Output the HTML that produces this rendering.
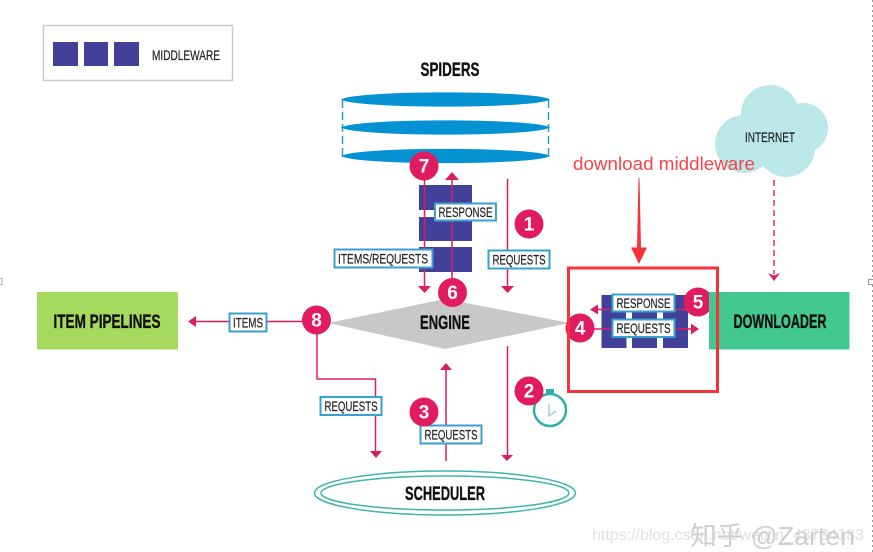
<!DOCTYPE html>
<html><head><meta charset="utf-8"><style>
html,body{margin:0;padding:0;background:#fff}
svg{display:block;filter:blur(.3px)}
text{font-family:"Liberation Sans","Noto Sans CJK SC",sans-serif}
.t{font-weight:bold;fill:#111;stroke:#111;stroke-width:.35;text-anchor:middle}
.l{fill:#222;stroke:#222;stroke-width:.2;font-size:14px;text-anchor:middle}
.b{fill:#fff;stroke:#36a3cf;stroke-width:2}
.p{stroke:#d81f66;stroke-width:1.5;fill:none}
.h{fill:#d81f66}
.c{fill:#e01b60}
.n{fill:#fff;font-weight:bold;font-size:19px;text-anchor:middle}
.m{fill:#43409a}
</style></head><body>
<svg width="873" height="552" viewBox="0 0 873 552" xmlns="http://www.w3.org/2000/svg">
<rect x="43.500" y="25.500" width="189" height="55" fill="#fff" stroke="#c9c9c9" stroke-width="1.500"/>
<rect class="m" x="53" y="42" width="25" height="24"/><rect class="m" x="84" y="42" width="24" height="24"/><rect class="m" x="114" y="42" width="25" height="24"/>
<text class="l" x="186" y="60" textLength="68" lengthAdjust="spacingAndGlyphs">MIDDLEWARE</text>

<text class="t" x="450" y="76" font-size="19" textLength="59" lengthAdjust="spacingAndGlyphs">SPIDERS</text>
<path d="M342.500 100V156M548.500 100V156" stroke="#2a9bd0" stroke-width="1.500" stroke-dasharray="8 4" fill="none"/>
<path d="M341 99.500C356 90 535 90 550 99.500C535 109 356 109 341 99.500Z" fill="#0592d2"/>
<path d="M341 127.500C356 118 535 118 550 127.500C535 137 356 137 341 127.500Z" fill="#0592d2"/>
<path d="M341 156C356 146.500 535 146.500 550 156C535 165.500 356 165.500 341 156Z" fill="#0592d2"/>

<rect class="m" x="419" y="185" width="53" height="25"/><rect class="m" x="419" y="217" width="53" height="24"/><rect class="m" x="419" y="247" width="53" height="25"/>
<polygon points="328,323 445,299 570,323 445,349" fill="#c8c8c8"/>
<text class="t" x="445" y="329" font-size="19" textLength="50" lengthAdjust="spacingAndGlyphs">ENGINE</text>

<path class="p" d="M424.500 166V288M452 292V178M507.500 179V288M507.500 346V455M446 461V370"/>
<path class="h" d="M418 286h13l-6.500 7zM445 180l7-8 7 8zM501 286h13l-6.500 7zM501 455h12l-6 6zM440 370l6-7 6 7z"/>

<rect class="b" x="435" y="203.500" width="61" height="17"/>
<text class="l" x="465.500" y="217" textLength="54" lengthAdjust="spacingAndGlyphs">RESPONSE</text>
<rect class="b" x="334.500" y="249.500" width="98" height="18"/>
<text class="l" x="383" y="263.500" textLength="90" lengthAdjust="spacingAndGlyphs">ITEMS/REQUESTS</text>
<rect class="b" x="488.500" y="250.500" width="61" height="18"/>
<text class="l" x="519" y="264.500" textLength="53" lengthAdjust="spacingAndGlyphs">REQUESTS</text>

<circle class="c" cx="424" cy="166" r="14.500"/><text class="n" x="424" y="172.500">7</text>
<circle class="c" cx="452.500" cy="292.500" r="14.500"/><text class="n" x="452.500" y="299">6</text>
<circle class="c" cx="529" cy="224" r="14.500"/><text class="n" x="529" y="230.500">1</text>

<rect x="37" y="292" width="141" height="57.500" fill="#a5da5f"/>
<text class="t" x="107" y="328" font-size="19" textLength="107" lengthAdjust="spacingAndGlyphs">ITEM PIPELINES</text>
<path class="p" d="M195 321.500H317V379H375.500V452"/>
<path class="h" d="M196 316l-8 5.500 8 5.500zM370 451h12l-6 7z"/>
<rect class="b" x="229.500" y="313.500" width="37" height="18"/>
<text class="l" x="248" y="327.500" textLength="30" lengthAdjust="spacingAndGlyphs">ITEMS</text>
<circle class="c" cx="316.500" cy="320" r="14.500"/><text class="n" x="316.500" y="326.500">8</text>
<rect class="b" x="320.500" y="397" width="61" height="18"/>
<text class="l" x="351" y="411" textLength="53" lengthAdjust="spacingAndGlyphs">REQUESTS</text>

<rect class="b" x="420.500" y="425.500" width="61" height="18"/>
<text class="l" x="451" y="439.500" textLength="53" lengthAdjust="spacingAndGlyphs">REQUESTS</text>
<circle class="c" cx="424" cy="412" r="14.500"/><text class="n" x="424" y="418.500">3</text>

<circle cx="550" cy="410" r="16" fill="#fff" stroke="#2fb0a8" stroke-width="2.500"/>
<rect x="546" y="389" width="8" height="5" fill="#2fb0a8"/>
<path d="M549 404V416L556 411" stroke="#7fcfca" stroke-width="1.200" fill="none"/>
<circle class="c" cx="529" cy="391" r="14.500"/><text class="n" x="529" y="397.500">2</text>

<ellipse cx="445" cy="493" rx="130.500" ry="22" fill="#fff" stroke="#3eb5ad" stroke-width="1.500"/>
<ellipse cx="445" cy="493" rx="124" ry="17" fill="#fff" stroke="#3eb5ad" stroke-width="1.500"/>
<text class="t" x="445" y="500" font-size="19" textLength="80" lengthAdjust="spacingAndGlyphs">SCHEDULER</text>

<rect class="m" x="601.500" y="295" width="86.500" height="43"/>
<rect class="m" x="601.500" y="338" width="25" height="10"/><rect class="m" x="632" y="338" width="25" height="10"/><rect class="m" x="663" y="338" width="25" height="10"/>
<rect x="626" y="312" width="6" height="7" fill="#fff"/><rect x="657" y="312" width="6" height="7" fill="#fff"/>
<path class="p" d="M597 309.500H698M580 329H692"/>
<path class="h" d="M598 304.500l-8 5 8 5zM691 323.500l8 5.500-8 5.500z"/>
<rect class="b" x="612.500" y="294.500" width="62" height="17"/>
<text class="l" x="643.500" y="308" textLength="54" lengthAdjust="spacingAndGlyphs">RESPONSE</text>
<rect class="b" x="612.500" y="319.500" width="62" height="17.500"/>
<text class="l" x="643.500" y="333" textLength="54" lengthAdjust="spacingAndGlyphs">REQUESTS</text>
<circle class="c" cx="580" cy="328" r="14.500"/><text class="n" x="580" y="334.500">4</text>
<circle class="c" cx="698" cy="302" r="14.500"/><text class="n" x="698" y="308.500">5</text>

<rect x="709" y="292" width="140.500" height="57.500" fill="#43c892"/>
<text class="t" x="780" y="328" font-size="19" textLength="93" lengthAdjust="spacingAndGlyphs">DOWNLOADER</text>

<rect x="568.500" y="268" width="149" height="123.500" fill="none" stroke="#f5333a" stroke-width="3"/>

<g fill="#bbe7e8"><circle cx="770" cy="114" r="29"/><circle cx="803" cy="128" r="25"/><circle cx="744" cy="144" r="29"/><circle cx="786" cy="148" r="29"/><rect x="750" y="120" width="50" height="35"/></g>
<text class="l" x="770" y="142" textLength="50" lengthAdjust="spacingAndGlyphs">INTERNET</text>
<path d="M774 180V274" stroke="#d81f66" stroke-width="1.400" stroke-dasharray="6 4" fill="none"/>
<path class="h" d="M768 273l6 2.500 6-2.500-6 8z"/>

<text x="573" y="170" font-size="18" fill="#f5444a" textLength="182" lengthAdjust="spacingAndGlyphs">download middleware</text>
<path d="M638.500 178H639.500L641 248H637Z" fill="#f5333a"/>
<path d="M631 247.500h16l-8 16.500z" fill="#f5333a"/>

<text x="592" y="540" font-size="16" fill="#e0e0e0" textLength="272" lengthAdjust="spacingAndGlyphs">https://blog.csdn.net/weixin_43734183</text>
<text x="690" y="545" font-size="26" fill="#cfcfcf" textLength="165" lengthAdjust="spacingAndGlyphs">知乎 @Zarten</text>
<rect x="-2" y="278.500" width="4" height="6" fill="#fff" stroke="#aaa"/>
<path d="M872.500 0V552" stroke="#999" stroke-width="1" stroke-dasharray="2 3"/>
<rect x="868.500" y="279.500" width="6" height="5" fill="#fff" stroke="#999"/>
</svg>
</body></html>
